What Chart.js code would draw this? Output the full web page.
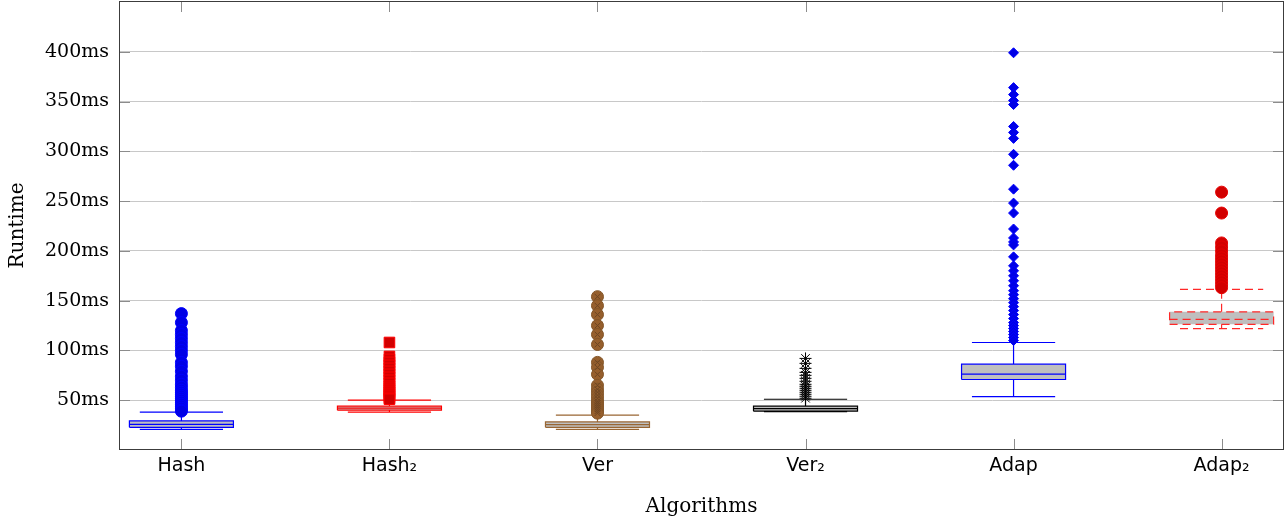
<!DOCTYPE html>
<html>
<head>
<meta charset="utf-8">
<script src="https://cdn.jsdelivr.net/npm/chart.js"></script>
<title>Runtime per algorithm</title>
<style>
	body { margin: 0; background: #fff; }
	.chart { width: 1288px; height: 520px; }
</style>
</head>
<body>
<div class="chart"><canvas id="chart1"></canvas></div>
<script>

// categories and their position on the x axis
var algorithms = ['Hash', 'Hash₂', 'Ver', 'Ver₂', 'Adap', 'Adap₂'];
var positions = [1, 2, 3, 4, 5, 6];

// box plot statistics (ms)
var lowWhisker = [20.8, 38, 20.8, 38.5, 53.7, 122];
var q1 = [22.8, 40, 22.8, 39, 70.8, 126.2];
var median = [25.8, 42, 25.4, 41.5, 76.2, 131.2];
var q3 = [29.2, 44, 28.2, 44, 86.2, 138.8];
var highWhisker = [38, 50, 35, 51, 108, 161.4];

// outliers (ms)
var hashOut = [137, 128, 120, 116, 112, 108, 104, 100, 96, 88, 84, 79, 74, 70, 66, 63, 60, 58, 56, 54, 52, 50, 48, 46, 44, 42, 40, 39];
var hash2Out = [108, 94, 91, 88, 85, 82, 79, 76, 73, 70, 67, 64, 62, 60, 58, 56, 54, 52, 51];
var verOut = [154, 145, 136, 125, 116, 106, 88, 83, 76, 65, 61, 58, 55, 52, 49, 47, 45, 43, 41, 39, 37];
var ver2Out = [92, 87, 82, 78, 75, 72, 69, 66, 64, 62, 60, 58, 56, 54, 52];
var adapOut = [399, 364, 357, 351, 347, 325, 319, 313, 297, 286, 262, 248, 238, 222, 213, 209, 206, 194, 185, 180, 175, 170, 165, 160, 156, 152, 148, 144, 140, 136, 132, 128, 125, 122, 119, 116, 113, 110];
var adap2Out = [259, 238, 208, 204, 200, 196, 193, 190, 187, 184, 181, 178, 175, 172, 169, 166, 163];
var outliers = [hashOut, hash2Out, verOut, ver2Out, adapOut, adap2Out];

// y axis ticks
var yTicks = [50, 100, 150, 200, 250, 300, 350, 400];

// look of each box
var styles = [
	{line: 'rgb(0,0,255)', dash: [], marker: 'circle', size: 6, fill: 'rgb(0,0,230)', edge: 'rgb(0,0,255)'},
	{line: 'rgb(255,0,0)', dash: [], marker: 'rect', size: 7.5, fill: 'rgb(210,0,0)', edge: 'rgb(255,0,0)'},
	{line: 'rgb(153,102,51)', dash: [], marker: 'circle', size: 6, fill: 'rgb(150,95,45)', edge: 'rgb(130,85,40)'},
	{line: 'rgb(0,0,0)', dash: [], marker: 'star', size: 6, fill: 'rgb(0,0,0)', edge: 'rgb(0,0,0)'},
	{line: 'rgb(0,0,255)', dash: [], marker: 'rectRot', size: 5, fill: 'rgb(0,0,230)', edge: 'rgb(0,0,255)'},
	{line: 'rgb(255,40,40)', dash: [8, 5], marker: 'circle', size: 6, fill: 'rgb(210,0,0)', edge: 'rgb(230,0,0)'}
];
var boxHalf = 0.25;
var capHalf = 0.2;

var datasets = [];

// grey box body
datasets.push({
	type: 'bar',
	data: positions.map(function (x, i) { return {x: x, y: [q1[i], q3[i]]}; }),
	backgroundColor: 'rgb(191,191,191)',
	borderWidth: 0,
	barPercentage: 0.5,
	categoryPercentage: 1,
	order: 3
});

// box outline, median and whiskers as broken lines
for (let i = 0; i < positions.length; i++) {
	let x = positions[i];
	let pts = [
		{x: x - boxHalf, y: q1[i]}, {x: x + boxHalf, y: q1[i]}, {x: x + boxHalf, y: q3[i]}, {x: x - boxHalf, y: q3[i]}, {x: x - boxHalf, y: q1[i]}, {x: x, y: null},
		{x: x - boxHalf, y: median[i]}, {x: x + boxHalf, y: median[i]}, {x: x, y: null},
		{x: x, y: q3[i]}, {x: x, y: highWhisker[i]}, {x: x, y: null},
		{x: x - capHalf, y: highWhisker[i]}, {x: x + capHalf, y: highWhisker[i]}, {x: x, y: null},
		{x: x, y: q1[i]}, {x: x, y: lowWhisker[i]}, {x: x, y: null},
		{x: x - capHalf, y: lowWhisker[i]}, {x: x + capHalf, y: lowWhisker[i]}
	];
	datasets.push({
		type: 'scatter',
		showLine: true,
		spanGaps: false,
		data: pts,
		borderColor: styles[i].line,
		borderWidth: 1.2,
		borderDash: styles[i].dash,
		pointRadius: 0,
		fill: false,
		order: 2
	});
}

// outlier marks
for (let i = 0; i < positions.length; i++) {
	datasets.push({
		type: 'scatter',
		data: outliers[i].map(function (v) { return {x: positions[i], y: v}; }),
		pointStyle: styles[i].marker,
		pointRadius: styles[i].size,
		backgroundColor: styles[i].fill,
		borderColor: styles[i].edge,
		borderWidth: 1,
		order: 1
	});
}

// the crosses inside the Ver circles
datasets.push({
	type: 'scatter',
	data: verOut.map(function (v) { return {x: positions[2], y: v}; }),
	pointStyle: 'crossRot',
	pointRadius: 4,
	borderColor: 'rgb(110,70,35)',
	borderWidth: 1,
	order: 0
});

// frame and inner tick marks like pgfplots
var framePlugin = {
	id: 'frame',
	beforeDatasetsDraw: function (chart) {
		let ctx = chart.ctx, a = chart.chartArea;
		let xs = chart.scales.x, ys = chart.scales.y;
		ctx.save();
		ctx.strokeStyle = 'rgb(140,140,140)';
		ctx.lineWidth = 1;
		ctx.beginPath();
		yTicks.forEach(function (v) {
			let y = Math.round(ys.getPixelForValue(v)) + 0.5;
			ctx.moveTo(a.left, y); ctx.lineTo(a.left + 11, y);
			ctx.moveTo(a.right - 11, y); ctx.lineTo(a.right, y);
		});
		positions.forEach(function (v) {
			let x = Math.round(xs.getPixelForValue(v)) + 0.5;
			ctx.moveTo(x, a.top); ctx.lineTo(x, a.top + 11);
			ctx.moveTo(x, a.bottom - 11); ctx.lineTo(x, a.bottom);
		});
		ctx.stroke();
		ctx.restore();
	},
	afterDraw: function (chart) {
		let ctx = chart.ctx, a = chart.chartArea;
		ctx.save();
		ctx.strokeStyle = 'rgb(60,60,60)';
		ctx.lineWidth = 1;
		ctx.strokeRect(Math.round(a.left) + 0.5, Math.round(a.top) + 0.5, Math.round(a.right - a.left) - 1, Math.round(a.bottom - a.top) - 1);
		ctx.restore();
	}
};

var ctx = document.getElementById('chart1').getContext('2d');
var chart1 = new Chart(ctx, {
	type: 'scatter',
	data: {datasets: datasets},
	plugins: [framePlugin],
	options: {
		responsive: true,
		maintainAspectRatio: false,
		animation: false,
		events: [],
		layout: {autoPadding: false, padding: {left: 0, right: 4, top: 1, bottom: 0}},
		plugins: {legend: {display: false}, tooltip: {enabled: false}},
		scales: {
			x: {
				type: 'linear',
				min: 0.7,
				max: 6.3,
				offset: false,
				grid: {display: false, drawTicks: false, offset: false},
				border: {display: false},
				afterBuildTicks: function (s) { s.ticks = positions.map(function (v) { return {value: v}; }); },
				afterFit: function (s) { s.height = 70; s.paddingLeft = 0; s.paddingRight = 0; },
				ticks: {
					autoSkip: false,
					maxRotation: 0,
					padding: 5,
					color: '#000',
					font: {family: 'DejaVu Sans', size: 19},
					callback: function (v) { return algorithms[positions.indexOf(v)]; }
				},
				title: {display: true, text: 'Algorithms', color: '#000', font: {family: 'DejaVu Serif', size: 20}, padding: {top: 0, bottom: 1}}
			},
			y: {
				type: 'linear',
				min: 0,
				max: 451,
				grid: {color: 'rgb(200,200,200)', drawTicks: false},
				border: {display: false},
				afterBuildTicks: function (s) { s.ticks = yTicks.map(function (v) { return {value: v}; }); },
				afterFit: function (s) { s.width = 119; s.paddingTop = 0; s.paddingBottom = 0; },
				ticks: {
					padding: 10,
					color: '#000',
					font: {family: 'DejaVu Serif', size: 19},
					callback: function (v) { return v + 'ms'; }
				},
				title: {display: true, text: 'Runtime', color: '#000', font: {family: 'DejaVu Serif', size: 20}, padding: {top: 6, bottom: 0}}
			}
		}
	}
});

</script>
</body>
</html>
